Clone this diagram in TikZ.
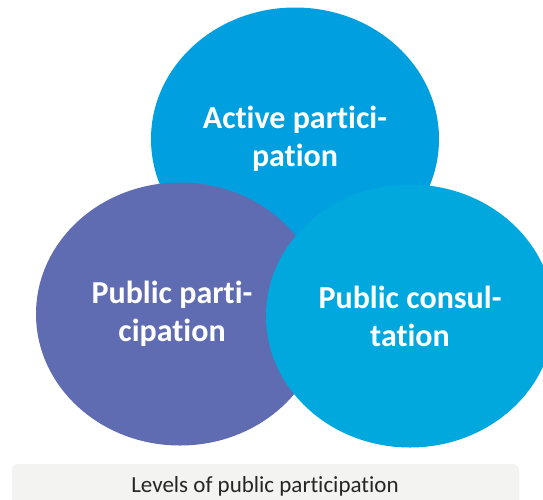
\documentclass[tikz,border=0pt]{standalone}
\usepackage{fontspec}
\setmainfont{Carlito}[Ligatures=NoCommon]
\usetikzlibrary{shapes.geometric}
\definecolor{activeblue}{RGB}{0,159,224}
\definecolor{consblue}{RGB}{0,168,222}
\definecolor{partpurple}{RGB}{95,108,178}
\definecolor{capgray}{RGB}{243,243,242}
\definecolor{capdark}{RGB}{38,38,38}
\begin{document}
\begin{tikzpicture}[x=1pt, y=-1pt,
    blob/.style={ellipse, minimum width=288pt, minimum height=263pt, inner sep=0pt},
    lbl/.style={text=white, font=\fontsize{32}{38}\selectfont\bfseries, align=center}]
    \useasboundingbox (0,0) rectangle (543,499);
    \clip (0,0) rectangle (543,499);
    % the three levels
    \node[blob, fill=activeblue] (AP) at (295,139) {};
    \node[blob, fill=partpurple] (PP) at (180,314) {};
    \node[blob, fill=consblue] (PC) at (410,316) {};
    \node[lbl] (APtext) at (AP.center) {Active partici-\\pation};
    \node[lbl] (PPtext) at ([xshift=-8pt]PP.center) {Public parti-\\cipation};
    \node[lbl] (PCtext) at (PC.center) {Public consul-\\tation};
    % caption
    \node[fill=capgray, rounded corners=6pt, minimum width=507pt, minimum height=50pt,
        inner sep=0pt] (cap) at (265.5,489) {};
    \node[anchor=base, text=capdark, font=\fontsize{23}{26}\selectfont] (captext)
        at (265,492) {Levels of public participation};
\end{tikzpicture}
\end{document}
